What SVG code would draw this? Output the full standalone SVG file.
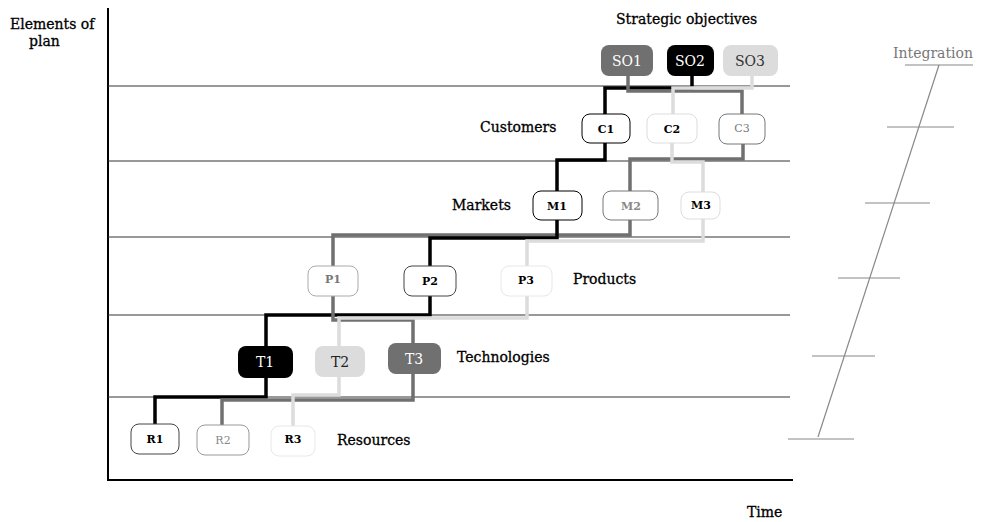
<svg xmlns="http://www.w3.org/2000/svg" width="985" height="522" viewBox="0 0 985 522">
<style>
text{font-family:"DejaVu Serif","Liberation Serif",serif;fill:#000}
.lbl{font-size:14px;stroke:#000;stroke-width:0.3}
.nb{font-size:11px;font-weight:bold;text-anchor:middle}
.nf{font-size:14px;text-anchor:middle}
.grid{stroke:#333;stroke-width:1}
.c{fill:none;stroke-width:3.5;stroke-linejoin:miter}
.k{stroke:#000}.g{stroke:#707070}.l{stroke:#dcdcdc}
.integ{stroke:#888;stroke-width:1.2}
</style>
<rect width="985" height="522" fill="#fff"/>
<g id="axes">
<line x1="108" y1="8" x2="108" y2="481" stroke="#000" stroke-width="2"/>
<line x1="107" y1="480" x2="793" y2="480" stroke="#000" stroke-width="2"/>
<line class="grid" x1="108" y1="86" x2="790" y2="86"/>
<line class="grid" x1="108" y1="161" x2="790" y2="161"/>
<line class="grid" x1="108" y1="237" x2="790" y2="237"/>
<line class="grid" x1="108" y1="315" x2="790" y2="315"/>
<line class="grid" x1="108" y1="397" x2="790" y2="397"/>
</g>
<g id="connectors">
<polyline class="c k" points="692,76 692,88 605,88 605,114"/>
<polyline class="c g" points="628,76 628,91 742,91 742,114"/>
<polyline class="c l" points="752,76 752,88 673,88 673,114"/>
<polyline class="c k" points="605,143 605,160 557,160 557,191"/>
<polyline class="c g" points="743,144 743,159 630,159 630,191"/>
<polyline class="c l" points="672,143 672,162 703,162 703,192"/>
<polyline class="c g" points="630,220 630,235 333,235 333,266"/>
<polyline class="c k" points="557,220 557,238 430,238 430,266"/>
<polyline class="c l" points="703,219 703,241 527,241 527,266"/>
<polyline class="c k" points="430,296 430,315 266,315 266,347"/>
<polyline class="c g" points="333,296 333,320 413,320 413,344"/>
<polyline class="c l" points="527,296 527,318 339,318 339,347"/>
<polyline class="c k" points="266,378 266,397 155,397 155,424"/>
<polyline class="c g" points="413,374 413,400 222,400 222,425"/>
<polyline class="c l" points="339,377 339,395 293,395 293,426"/>
</g>
<g id="SO1"><rect x="601" y="45" width="52" height="31" rx="8" fill="#707070"/><text class="nf" x="627" y="66" style="fill:#fff">SO1</text></g>
<g id="SO2"><rect x="667" y="45" width="47" height="31" rx="8" fill="#000"/><text class="nf" x="690" y="66" style="fill:#fff">SO2</text></g>
<g id="SO3"><rect x="723" y="45" width="55" height="31" rx="8" fill="#dcdcdc"/><text class="nf" x="750" y="66" style="fill:#333">SO3</text></g>
<g id="C1"><rect x="582" y="114" width="48" height="29" rx="8" fill="#fff" stroke="#000"/><text class="nb" x="606" y="133">C1</text></g>
<g id="C2"><rect x="647" y="114" width="50" height="29" rx="8" fill="#fff" stroke="#ddd"/><text class="nb" x="672" y="133">C2</text></g>
<g id="C3"><rect x="719" y="114" width="46" height="30" rx="8" fill="#fff" stroke="#777"/><text class="nb" x="742" y="132" style="fill:#777;font-weight:normal">C3</text></g>
<g id="M1"><rect x="533" y="191" width="49" height="29" rx="8" fill="#fff" stroke="#000"/><text class="nb" x="557" y="210">M1</text></g>
<g id="M2"><rect x="603" y="191" width="55" height="29" rx="8" fill="#fff" stroke="#777"/><text class="nb" x="631" y="210" style="fill:#888">M2</text></g>
<g id="M3"><rect x="681" y="192" width="39" height="27" rx="8" fill="#fff" stroke="#ddd"/><text class="nb" x="701" y="209">M3</text></g>
<g id="P1"><rect x="308" y="266" width="50" height="30" rx="8" fill="#fff" stroke="#aaa"/><text class="nb" x="333" y="283" style="fill:#777">P1</text></g>
<g id="P2"><rect x="404" y="266" width="52" height="30" rx="8" fill="#fff" stroke="#444"/><text class="nb" x="430" y="285">P2</text></g>
<g id="P3"><rect x="501" y="266" width="51" height="30" rx="8" fill="#fff" stroke="#e8e8e8"/><text class="nb" x="526" y="284">P3</text></g>
<g id="T1"><rect x="238" y="346" width="55" height="32" rx="8" fill="#000"/><text class="nf" x="265" y="367" style="fill:#fff">T1</text></g>
<g id="T2"><rect x="315" y="346" width="50" height="31" rx="8" fill="#dcdcdc"/><text class="nf" x="340" y="367" style="fill:#222">T2</text></g>
<g id="T3"><rect x="388" y="343" width="53" height="31" rx="8" fill="#707070"/><text class="nf" x="414" y="364" style="fill:#fff">T3</text></g>
<g id="R1"><rect x="131" y="424" width="48" height="30" rx="8" fill="#fff" stroke="#444"/><text class="nb" x="155" y="443">R1</text></g>
<g id="R2"><rect x="197" y="425" width="52" height="30" rx="8" fill="#fff" stroke="#999"/><text class="nb" x="223" y="444" style="fill:#888;font-weight:normal">R2</text></g>
<g id="R3"><rect x="271" y="426" width="44" height="30" rx="8" fill="#fff" stroke="#e8e8e8"/><text class="nb" x="293" y="443">R3</text></g>
<g id="labels">
<text class="lbl" x="10" y="29">Elements of</text>
<text class="lbl" x="29" y="46">plan</text>
<text class="lbl" x="616" y="24">Strategic objectives</text>
<text class="lbl" x="480" y="132">Customers</text>
<text class="lbl" x="452" y="210">Markets</text>
<text class="lbl" x="573" y="284">Products</text>
<text class="lbl" x="457" y="362">Technologies</text>
<text class="lbl" x="337" y="445">Resources</text>
<text class="lbl" x="747" y="517">Time</text>
</g>
<g id="integration">
<text x="893" y="58" style="font-size:14px;fill:#777">Integration</text>
<line class="integ" x1="905" y1="65" x2="973" y2="65"/>
<line class="integ" x1="939" y1="65" x2="818" y2="437"/>
<line class="integ" x1="887" y1="127" x2="954" y2="127"/>
<line class="integ" x1="865" y1="203" x2="930" y2="203"/>
<line class="integ" x1="838" y1="278" x2="900" y2="278"/>
<line class="integ" x1="812" y1="356" x2="875" y2="356"/>
<line class="integ" x1="788" y1="439" x2="854" y2="439"/>
</g>
</svg>
